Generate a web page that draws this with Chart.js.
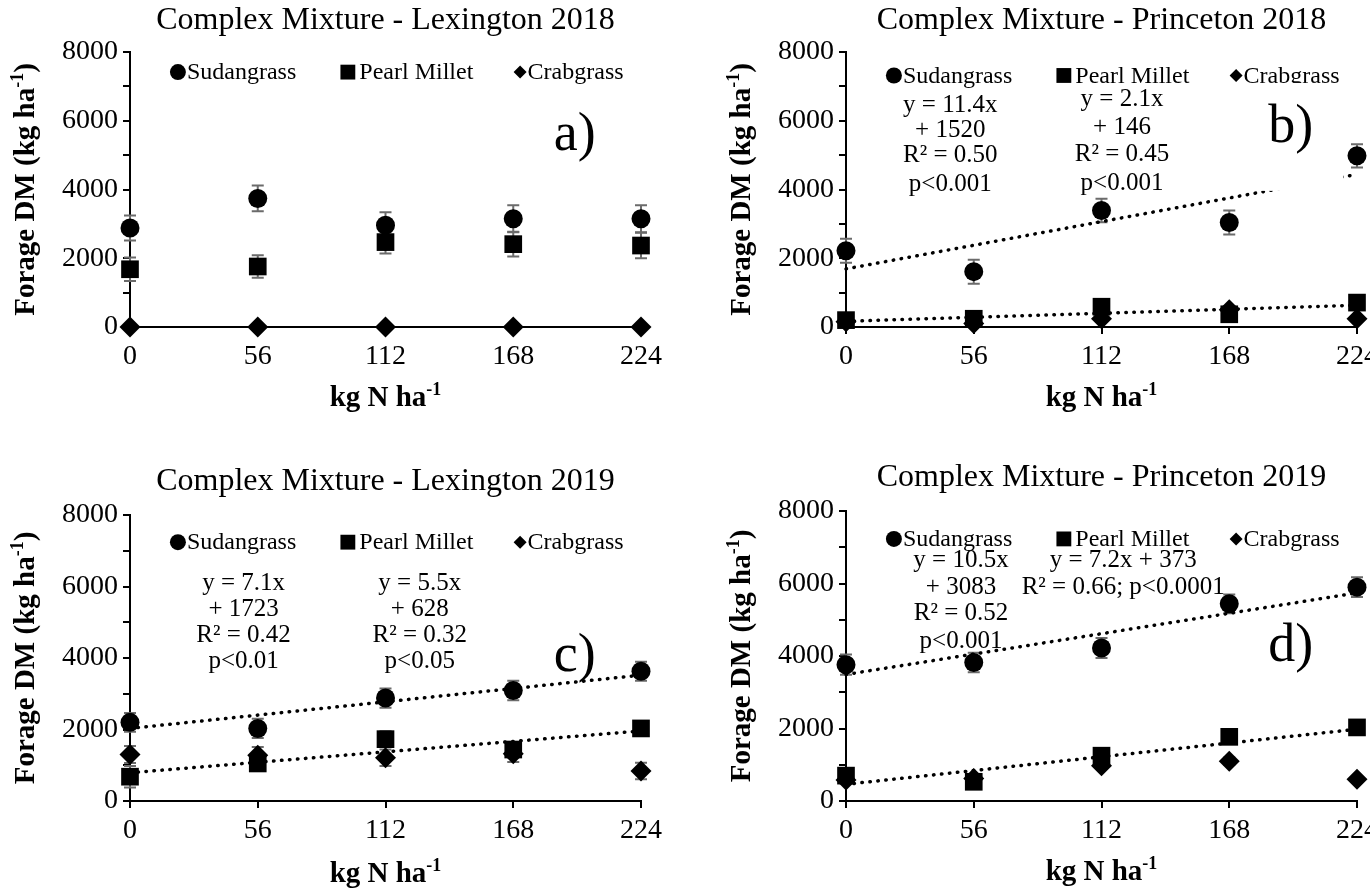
<!DOCTYPE html>
<html>
<head>
<meta charset="utf-8">
<script src="https://cdn.jsdelivr.net/npm/chart.js@4.4.0/dist/chart.umd.min.js"></script>
<style>
  body { margin: 0; background: #fff; }
  .panel { position: absolute; width: 685px; height: 445px; }
</style>
</head>
<body>
<div class="panel" style="left:0;top:0"><canvas id="chartA"></canvas></div>
<div class="panel" style="left:685px;top:0"><canvas id="chartB"></canvas></div>
<div class="panel" style="left:0;top:445px;height:444px"><canvas id="chartC"></canvas></div>
<div class="panel" style="left:685px;top:445px;height:444px"><canvas id="chartD"></canvas></div>
<script>
const fontFamily = '"Liberation Serif", "Times New Roman", serif';

// x: N rate, y ticks
const nRates = [0, 56, 112, 168, 224];
const yTickValues = [0, 1000, 2000, 3000, 4000, 5000, 6000, 7000, 8000];
const yLabelStep = 2000;

const speciesNames = ['Sudangrass', 'Pearl Millet', 'Crabgrass'];
const speciesStyles = ['circle', 'rect', 'rectRot'];

// a) Lexington 2018
const lex18Sudan = [2880, 3740, 2960, 3150, 3150];
const lex18SudanErr = [365, 375, 380, 390, 390];
const lex18Millet = [1680, 1760, 2470, 2410, 2370];
const lex18MilletErr = [340, 330, 330, 360, 370];
const lex18Crab = [0, 0, 0, 0, 0];
const lex18CrabErr = [0, 0, 0, 0, 0];

// b) Princeton 2018
const pri18Sudan = [2220, 1610, 3390, 3040, 4980];
const pri18SudanErr = [350, 350, 340, 350, 340];
const pri18Millet = [200, 240, 590, 370, 710];
const pri18MilletErr = [60, 60, 80, 80, 60];
const pri18Crab = [150, 100, 240, 500, 240];
const pri18CrabErr = [40, 40, 60, 80, 50];
const pri18SudanFit = [1690, 4440];
const pri18MilletFit = [165, 635];

// c) Lexington 2019
const lex19Sudan = [2200, 2030, 2880, 3090, 3630];
const lex19SudanErr = [260, 270, 270, 275, 265];
const lex19Millet = [680, 1050, 1730, 1440, 2030];
const lex19MilletErr = [300, 150, 220, 200, 120];
const lex19Crab = [1300, 1280, 1210, 1320, 840];
const lex19CrabErr = [240, 230, 230, 230, 230];
const lex19SudanFit = [2030, 3520];
const lex19MilletFit = [790, 1960];

// d) Princeton 2019
const pri19Sudan = [3760, 3820, 4220, 5440, 5900];
const pri19SudanErr = [280, 270, 275, 260, 275];
const pri19Millet = [700, 530, 1250, 1770, 2030];
const pri19MilletErr = [80, 80, 100, 100, 80];
const pri19Crab = [580, 620, 970, 1100, 600];
const pri19CrabErr = [80, 80, 80, 100, 80];
const pri19SudanFit = [3490, 5740];
const pri19MilletFit = [460, 1980];

// marker sizes
const markerRadius = [9.5, 12.5, 10.5];
const legendRadius = [8, 10.5, 6.5];
const legendX = [21, 95.5, 171];

const panels = {
  chartA: {
    title: 'Complex Mixture - Lexington 2018',
    area: { left: 130, right: 641, top: 52, bottom: 327 },
    titleY: 21, xTitleY: 399, yTitleX: 27,
    means: [lex18Sudan, lex18Millet, lex18Crab],
    errs: [lex18SudanErr, lex18MilletErr, lex18CrabErr],
    fits: [],
    legendY: 7415,
    notes: [],
    letter: { text: 'a)', x: 195, y: 5560 }
  },
  chartB: {
    title: 'Complex Mixture - Princeton 2018',
    area: { left: 161, right: 672, top: 52, bottom: 327 },
    titleY: 21, xTitleY: 399, yTitleX: 58,
    means: [pri18Sudan, pri18Millet, pri18Crab],
    errs: [pri18SudanErr, pri18MilletErr, pri18CrabErr],
    fits: [pri18SudanFit, pri18MilletFit],
    legendY: 7317,
    notes: [
      { x: 45.7, lines: ['y = 11.4x', '+ 1520', 'R² = 0.50', 'p<0.001'], ys: [6440, 5710, 4980, 4150] },
      { x: 121, lines: ['y = 2.1x', '+ 146', 'R² = 0.45', 'p<0.001'], ys: [6630, 5800, 5020, 4190] }
    ],
    letter: { text: 'b)', x: 195, y: 5800, box: [178, 218, 3960, 7100] }
  },
  chartC: {
    title: 'Complex Mixture - Lexington 2019',
    area: { left: 130, right: 641, top: 70, bottom: 356 },
    titleY: 37, xTitleY: 430, yTitleX: 27,
    means: [lex19Sudan, lex19Millet, lex19Crab],
    errs: [lex19SudanErr, lex19MilletErr, lex19CrabErr],
    fits: [lex19SudanFit, lex19MilletFit],
    legendY: 7240,
    notes: [
      { x: 49.8, lines: ['y = 7.1x', '+ 1723', 'R² = 0.42', 'p<0.01'], ys: [6090, 5360, 4620, 3890] },
      { x: 127, lines: ['y = 5.5x', '+ 628', 'R² = 0.32', 'p<0.05'], ys: [6090, 5360, 4620, 3890] }
    ],
    letter: { text: 'c)', x: 195, y: 4030 }
  },
  chartD: {
    title: 'Complex Mixture - Princeton 2019',
    area: { left: 161, right: 672, top: 66, bottom: 356 },
    titleY: 33, xTitleY: 428, yTitleX: 58,
    means: [pri19Sudan, pri19Millet, pri19Crab],
    errs: [pri19SudanErr, pri19MilletErr, pri19CrabErr],
    fits: [pri19SudanFit, pri19MilletFit],
    legendY: 7230,
    notes: [
      { x: 50.4, lines: ['y = 10.5x', '+ 3083', 'R² = 0.52', 'p<0.001'], ys: [6630, 5900, 5165, 4400] },
      { x: 121.5, lines: ['y = 7.2x + 373', 'R² = 0.66; p<0.0001'], ys: [6630, 5900] }
    ],
    letter: { text: 'd)', x: 195, y: 4250 }
  }
};

// text with a superscript tail, centred on (cx, cy)
function drawSupText(ctx, base, sup, tail, cx, cy, size) {
  const big = 'bold ' + size + 'px ' + fontFamily;
  const small = 'bold ' + Math.round(size * 0.62) + 'px ' + fontFamily;
  ctx.font = big;
  const wBase = ctx.measureText(base).width;
  const wTail = ctx.measureText(tail).width;
  ctx.font = small;
  const wSup = ctx.measureText(sup).width;
  let x = cx - (wBase + wSup + wTail) / 2;
  ctx.textAlign = 'left';
  ctx.textBaseline = 'middle';
  ctx.font = big;
  ctx.fillText(base, x, cy);
  x += wBase;
  ctx.font = small;
  ctx.fillText(sup, x, cy - size * 0.3);
  x += wSup;
  ctx.font = big;
  ctx.fillText(tail, x, cy);
}

const decorPlugin = {
  id: 'panelDecor',
  beforeDatasetsDraw(chart) {
    const cfg = panels[chart.canvas.id];
    const ctx = chart.ctx, xs = chart.scales.x, ys = chart.scales.y;
    ctx.save();
    ctx.strokeStyle = '#6b6b6b';
    ctx.lineWidth = 2;
    cfg.means.forEach((vals, s) => {
      vals.forEach((v, i) => {
        const e = cfg.errs[s][i];
        if (!e) return;
        const px = xs.getPixelForValue(nRates[i]);
        const top = ys.getPixelForValue(v + e);
        const bot = ys.getPixelForValue(Math.max(v - e, 0));
        ctx.beginPath();
        ctx.moveTo(px, top); ctx.lineTo(px, bot);
        ctx.moveTo(px - 6, top); ctx.lineTo(px + 6, top);
        ctx.moveTo(px - 6, bot); ctx.lineTo(px + 6, bot);
        ctx.stroke();
      });
    });
    ctx.restore();
  },
  afterDraw(chart) {
    const cfg = panels[chart.canvas.id];
    const ctx = chart.ctx, xs = chart.scales.x, ys = chart.scales.y;
    const area = chart.chartArea;
    ctx.save();
    ctx.fillStyle = '#000';
    ctx.textBaseline = 'middle';

    // title
    ctx.textAlign = 'center';
    ctx.font = '32px ' + fontFamily;
    ctx.fillText(cfg.title, (area.left + area.right) / 2, cfg.titleY);

    // legend
    const ly = ys.getPixelForValue(cfg.legendY);
    speciesNames.forEach((name, s) => {
      const mx = xs.getPixelForValue(legendX[s]);
      Chart.helpers.drawPoint(ctx, { pointStyle: speciesStyles[s], radius: legendRadius[s], rotation: 0, borderWidth: 0 }, mx, ly);
      ctx.textAlign = 'left';
      ctx.font = '24px ' + fontFamily;
      ctx.fillText(name, mx + legendRadius[s] + 1, ly + 1);
    });

    // regression notes
    ctx.textAlign = 'center';
    ctx.font = '25px ' + fontFamily;
    cfg.notes.forEach(note => {
      note.lines.forEach((line, k) => {
        ctx.fillText(line, xs.getPixelForValue(note.x), ys.getPixelForValue(note.ys[k]));
      });
    });

    // panel letter (b has a white text box that hides part of the fit)
    const lt = cfg.letter;
    if (lt.box) {
      ctx.fillStyle = '#fff';
      const x0 = xs.getPixelForValue(lt.box[0]), x1 = xs.getPixelForValue(lt.box[1]);
      const y0 = ys.getPixelForValue(lt.box[3]), y1 = ys.getPixelForValue(lt.box[2]);
      ctx.fillRect(x0, y0, x1 - x0, y1 - y0);
      ctx.fillStyle = '#000';
    }
    ctx.font = '54px ' + fontFamily;
    ctx.fillText(lt.text, xs.getPixelForValue(lt.x), ys.getPixelForValue(lt.y));

    // axis titles
    drawSupText(ctx, 'kg N ha', '-1', '', (area.left + area.right) / 2, cfg.xTitleY, 29);
    ctx.save();
    ctx.translate(cfg.yTitleX, (area.top + area.bottom) / 2);
    ctx.rotate(-Math.PI / 2);
    drawSupText(ctx, 'Forage DM (kg ha', '-1', ')', 0, 0, 29);
    ctx.restore();
    ctx.restore();
  }
};

Chart.defaults.font.family = fontFamily;
Chart.defaults.color = '#000';

function buildChart(id) {
  const cfg = panels[id];
  const canvas = document.getElementById(id);
  const W = canvas.parentNode.clientWidth, H = canvas.parentNode.clientHeight;
  const datasets = [];
  cfg.fits.forEach(fit => {
    datasets.push({
      data: [{ x: nRates[0], y: fit[0] }, { x: nRates[nRates.length - 1], y: fit[1] }],
      showLine: true,
      borderColor: '#000',
      borderWidth: 3.5,
      borderDash: [0.5, 7.5],
      borderCapStyle: 'round',
      pointRadius: 0,
      clip: false,
      order: 0
    });
  });
  cfg.means.forEach((vals, s) => {
    datasets.push({
      label: speciesNames[s],
      data: vals.map((v, i) => ({ x: nRates[i], y: v })),
      pointStyle: speciesStyles[s],
      pointRadius: markerRadius[s],
      pointBackgroundColor: '#000',
      pointBorderWidth: 0,
      showLine: false,
      clip: false,
      order: 1
    });
  });

  new Chart(canvas, {
    type: 'scatter',
    data: { datasets },
    plugins: [decorPlugin],
    options: {
      responsive: true,
      maintainAspectRatio: false,
      animation: false,
      layout: { padding: { left: 0, top: cfg.area.top, right: W - cfg.area.right, bottom: 0 } },
      plugins: { legend: { display: false }, tooltip: { enabled: false } },
      scales: {
        x: {
          type: 'linear',
          min: 0,
          max: 224,
          afterBuildTicks: scale => { scale.ticks = nRates.map(v => ({ value: v })); },
          afterFit: scale => {
            scale.height = H - cfg.area.bottom;
            scale.paddingLeft = 0;
            scale.paddingRight = 0;
          },
          ticks: { autoSkip: false, maxRotation: 0, padding: 6, font: { size: 28 }, color: '#000' },
          grid: { drawOnChartArea: false, drawTicks: true, tickLength: 7, color: '#000', lineWidth: 2 },
          border: { display: true, color: '#000', width: 2 }
        },
        y: {
          type: 'linear',
          min: 0,
          max: 8000,
          afterBuildTicks: scale => { scale.ticks = yTickValues.map(v => ({ value: v })); },
          afterFit: scale => {
            scale.width = cfg.area.left;
            scale.paddingTop = 0;
            scale.paddingBottom = 0;
          },
          ticks: {
            autoSkip: false,
            padding: 5,
            font: { size: 28 },
            color: '#000',
            callback: v => (v % yLabelStep === 0 ? String(v) : '')
          },
          grid: { drawOnChartArea: false, drawTicks: true, tickLength: 7, color: '#000', lineWidth: 2 },
          border: { display: true, color: '#000', width: 2 }
        }
      }
    }
  });
}

['chartA', 'chartB', 'chartC', 'chartD'].forEach(buildChart);
</script>
</body>
</html>
